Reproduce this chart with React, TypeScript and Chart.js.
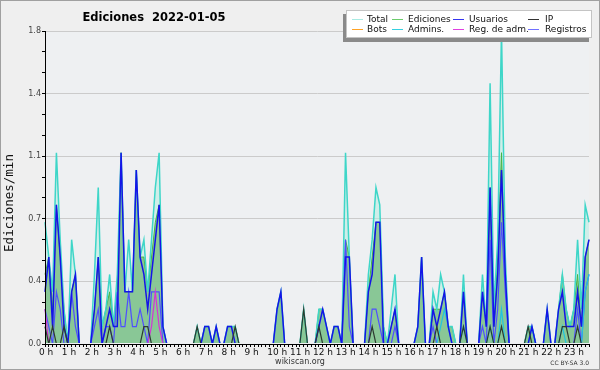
import React, { useEffect, useRef } from 'react';
import { Chart, registerables } from 'chart.js';

Chart.register(...registerables);

// x categories: minutes of the day, every 10 minutes (00:00 .. 23:50)
const minutes = Array.from({ length: 144 }, (_, i) => i * 10);

// y ticks (major every 0.36, minor every 0.12)
const yTicks = [0, 0.12, 0.24, 0.36, 0.48, 0.6, 0.72, 0.84, 0.96, 1.08, 1.2, 1.32, 1.44, 1.56, 1.68, 1.8];

// each row = 2 hours (12 x 10 min)
const total = [
  0.7, 0.5, 0.3, 1.1, 0.6, 0.2, 0, 0.6, 0.4, 0, 0, 0,
  0, 0.4, 0.9, 0.1, 0.2, 0.4, 0.1, 0.4, 1.1, 0.3, 0.6, 0.3,
  1.0, 0.5, 0.6, 0.3, 0.6, 0.9, 1.1, 0.1, 0, 0, 0, 0,
  0, 0, 0, 0, 0.1, 0, 0.1, 0.1, 0, 0.1, 0, 0,
  0.1, 0.1, 0.1, 0, 0, 0, 0, 0, 0, 0, 0, 0,
  0, 0.2, 0.3, 0, 0, 0, 0, 0, 0.2, 0, 0, 0,
  0.2, 0.2, 0.1, 0, 0.1, 0.1, 0, 1.1, 0.5, 0, 0, 0,
  0, 0.4, 0.6, 0.9, 0.8, 0.1, 0, 0.2, 0.4, 0, 0, 0,
  0, 0, 0.1, 0.5, 0, 0, 0.3, 0.2, 0.4, 0.3, 0.1, 0.1,
  0, 0, 0.4, 0, 0, 0, 0, 0.4, 0.1, 1.5, 0.2, 0.6,
  1.8, 0.5, 0, 0, 0, 0, 0, 0.1, 0.1, 0, 0, 0,
  0.2, 0, 0, 0.2, 0.4, 0.2, 0.1, 0.2, 0.6, 0.2, 0.8, 0.7,
];

const ediciones = [
  0.4, 0.5, 0.2, 0.8, 0.5, 0.2, 0, 0.3, 0.4, 0, 0, 0,
  0, 0.2, 0.5, 0.1, 0.2, 0.3, 0.1, 0.3, 1.1, 0.3, 0.3, 0.3,
  1.0, 0.5, 0.5, 0.3, 0.5, 0.7, 0.8, 0.1, 0, 0, 0, 0,
  0, 0, 0, 0, 0.1, 0, 0.1, 0.1, 0, 0.1, 0, 0,
  0.1, 0.1, 0.1, 0, 0, 0, 0, 0, 0, 0, 0, 0,
  0, 0.2, 0.3, 0, 0, 0, 0, 0, 0.2, 0, 0, 0,
  0.2, 0.2, 0.1, 0, 0.1, 0.1, 0, 0.6, 0.5, 0, 0, 0,
  0, 0.3, 0.5, 0.7, 0.7, 0.1, 0, 0.1, 0.2, 0, 0, 0,
  0, 0, 0.1, 0.5, 0, 0, 0.2, 0.2, 0.2, 0.3, 0.1, 0.1,
  0, 0, 0.3, 0, 0, 0, 0, 0.3, 0.1, 0.9, 0.1, 0.5,
  1.1, 0.4, 0, 0, 0, 0, 0, 0.1, 0.1, 0, 0, 0,
  0.2, 0, 0, 0.2, 0.4, 0.2, 0.1, 0.2, 0.4, 0.1, 0.5, 0.6,
];

const usuarios = [
  0.3, 0.5, 0.1, 0.8, 0.5, 0.1, 0, 0.3, 0.4, 0, 0, 0,
  0, 0.2, 0.5, 0, 0.1, 0.2, 0.1, 0.1, 1.1, 0.3, 0.3, 0.3,
  1.0, 0.5, 0.4, 0.2, 0.4, 0.6, 0.8, 0.1, 0, 0, 0, 0,
  0, 0, 0, 0, 0, 0, 0.1, 0.1, 0, 0.1, 0, 0,
  0.1, 0.1, 0, 0, 0, 0, 0, 0, 0, 0, 0, 0,
  0, 0.2, 0.3, 0, 0, 0, 0, 0, 0, 0, 0, 0,
  0.1, 0.2, 0.1, 0, 0.1, 0.1, 0, 0.5, 0.5, 0, 0, 0,
  0, 0.3, 0.4, 0.7, 0.7, 0, 0, 0.1, 0.2, 0, 0, 0,
  0, 0, 0.1, 0.5, 0, 0, 0.2, 0.1, 0.2, 0.3, 0.1, 0,
  0, 0, 0.3, 0, 0, 0, 0, 0.3, 0.1, 0.9, 0.1, 0.4,
  1.0, 0.4, 0, 0, 0, 0, 0, 0, 0.1, 0, 0, 0,
  0.2, 0, 0, 0.2, 0.3, 0.1, 0.1, 0.1, 0.3, 0.1, 0.5, 0.6,
];

const ip = [
  0.1, 0, 0.1, 0, 0, 0.1, 0, 0, 0, 0, 0, 0,
  0, 0, 0, 0, 0, 0.1, 0, 0, 0, 0, 0, 0,
  0, 0, 0.1, 0.1, 0, 0, 0, 0, 0, 0, 0, 0,
  0, 0, 0, 0, 0.1, 0, 0, 0, 0, 0, 0, 0,
  0, 0, 0.1, 0, 0, 0, 0, 0, 0, 0, 0, 0,
  0, 0, 0, 0, 0, 0, 0, 0, 0.2, 0, 0, 0,
  0.1, 0, 0, 0, 0, 0, 0, 0, 0, 0, 0, 0,
  0, 0, 0.1, 0, 0, 0, 0, 0, 0, 0, 0, 0,
  0, 0, 0, 0, 0, 0, 0, 0.1, 0, 0, 0, 0,
  0, 0, 0.1, 0, 0, 0, 0, 0, 0, 0.1, 0, 0,
  0.1, 0, 0, 0, 0, 0, 0, 0.1, 0, 0, 0, 0,
  0, 0, 0, 0, 0.1, 0.1, 0, 0, 0.1, 0, 0, 0,
];

const admins = [
  0, 0, 0, 0, 0, 0, 0, 0, 0, 0, 0, 0,
  0, 0, 0, 0, 0, 0, 0, 0, 0, 0, 0, 0,
  0, 0, 0, 0, 0, 0, 0, 0, 0, 0, 0, 0,
  0, 0, 0, 0, 0, 0, 0, 0, 0, 0, 0, 0,
  0, 0, 0, 0, 0, 0, 0, 0, 0, 0, 0, 0,
  0, 0, 0, 0, 0, 0, 0, 0, 0, 0, 0, 0,
  0, 0, 0, 0, 0, 0, 0, 0, 0, 0, 0, 0,
  0, 0, 0, 0, 0, 0, 0, 0, 0, 0, 0, 0,
  0, 0, 0, 0, 0, 0, 0, 0, 0.1, 0.2, 0.1, 0,
  0, 0, 0.1, 0, 0, 0, 0, 0, 0, 0.1, 0, 0,
  0.2, 0, 0, 0, 0, 0, 0, 0, 0.1, 0, 0, 0,
  0, 0, 0, 0, 0.1, 0, 0, 0, 0, 0, 0.3, 0.4,
];

const regAdm = [
  0.2, 0, 0, 0, 0, 0, 0, 0, 0, 0, 0, 0,
  0, 0, 0, 0, 0, 0, 0, 0, 0, 0, 0, 0,
  0, 0, 0, 0, 0.1, 0.3, 0.1, 0, 0, 0, 0, 0,
  0, 0, 0, 0, 0, 0, 0, 0, 0, 0, 0, 0,
  0, 0, 0, 0, 0, 0, 0, 0, 0, 0, 0, 0,
  0, 0, 0, 0, 0, 0, 0, 0, 0, 0, 0, 0,
  0, 0, 0, 0, 0, 0, 0, 0, 0, 0, 0, 0,
  0, 0, 0, 0, 0, 0, 0, 0, 0, 0, 0, 0,
  0, 0, 0, 0, 0, 0, 0, 0, 0, 0, 0, 0,
  0, 0, 0, 0, 0, 0, 0, 0, 0, 0, 0, 0,
  0, 0, 0, 0, 0, 0, 0, 0, 0, 0, 0, 0,
  0, 0, 0, 0, 0, 0, 0, 0, 0, 0, 0, 0,
];

const registros = [
  0.2, 0.1, 0, 0.3, 0.2, 0, 0, 0.3, 0.1, 0, 0, 0,
  0, 0.1, 0.2, 0, 0.1, 0.1, 0, 0.3, 0.1, 0.1, 0.3, 0.1,
  0.1, 0.2, 0.1, 0, 0.3, 0.3, 0.3, 0, 0, 0, 0, 0,
  0, 0, 0, 0, 0, 0, 0, 0, 0, 0, 0, 0,
  0, 0, 0, 0, 0, 0, 0, 0, 0, 0, 0, 0,
  0, 0, 0, 0, 0, 0, 0, 0, 0, 0, 0, 0,
  0, 0, 0, 0, 0, 0, 0, 0.6, 0.1, 0, 0, 0,
  0, 0, 0.2, 0.2, 0.1, 0, 0, 0, 0.1, 0, 0, 0,
  0, 0, 0, 0, 0, 0, 0.1, 0, 0, 0, 0, 0,
  0, 0, 0, 0, 0, 0, 0, 0.1, 0, 0.6, 0, 0.2,
  0.7, 0.3, 0, 0, 0, 0, 0, 0, 0, 0, 0, 0,
  0, 0, 0, 0, 0, 0, 0, 0, 0.2, 0, 0.3, 0.4,
];

const legendLabels = ['Total', 'Ediciones', 'Usuarios', 'IP', 'Bots', 'Admins.', 'Reg. de adm.', 'Registros'];
const legendColors = ['#a8ebe3', '#6ccc6c', '#3535f0', '#333333', '#ffa326', '#35d0e0', '#e040e0', '#7070ff'];

const pts = (arr: number[]) => arr.map((v, i) => ({ x: minutes[i], y: v }));

const FONT = '"DejaVu Sans", sans-serif';

const decor = {
  id: 'decor',
  beforeDraw(chart: any) {
    const { ctx, chartArea: a, width, height } = chart;
    ctx.save();
    ctx.fillStyle = '#efefef';
    ctx.fillRect(0, 0, width, height);
    ctx.fillStyle = '#eef0f2';
    ctx.fillRect(a.left, a.top, a.right - a.left, a.bottom - a.top);
    ctx.restore();
  },
  afterDatasetsDraw(chart: any) {
    const { ctx, chartArea: a } = chart;
    ctx.save();
    ctx.strokeStyle = '#000';
    ctx.lineWidth = 1;
    ctx.beginPath();
    ctx.moveTo(a.left + 0.5, a.top);
    ctx.lineTo(a.left + 0.5, a.bottom + 0.5);
    ctx.lineTo(a.right, a.bottom + 0.5);
    ctx.stroke();
    ctx.restore();
  },
  afterDraw(chart: any) {
    const { ctx } = chart;
    ctx.save();
    // title
    ctx.fillStyle = '#000';
    ctx.font = 'bold 11.5px ' + FONT;
    ctx.textAlign = 'center';
    ctx.textBaseline = 'alphabetic';
    ctx.fillText('Ediciones  2022-01-05', 154, 20.5);
    // y title
    ctx.save();
    ctx.translate(9.5, 203);
    ctx.rotate(-Math.PI / 2);
    ctx.font = '12.5px "DejaVu Sans Mono", monospace';
    ctx.textBaseline = 'middle';
    ctx.fillStyle = '#111';
    ctx.fillText('Ediciones/min', 0, 0);
    ctx.restore();
    // footer
    ctx.fillStyle = '#333';
    ctx.font = '8px ' + FONT;
    ctx.textAlign = 'center';
    ctx.fillText('wikiscan.org', 300, 364);
    ctx.font = '6px ' + FONT;
    ctx.textAlign = 'right';
    ctx.fillText('CC BY-SA 3.0', 589, 365);
    // legend
    ctx.fillStyle = '#8a8a8a';
    ctx.fillRect(343, 14, 246, 28);
    ctx.fillStyle = '#ffffff';
    ctx.fillRect(346, 10, 246, 27);
    ctx.strokeStyle = '#c4c4c4';
    ctx.lineWidth = 1;
    ctx.strokeRect(346.5, 10.5, 245, 27);
    const lineX = [352, 392, 453, 528];
    const textX = [367, 408, 469, 545];
    const rowY = [19.5, 29.5];
    ctx.font = '9px ' + FONT;
    ctx.textAlign = 'left';
    ctx.textBaseline = 'middle';
    legendLabels.forEach((lab, k) => {
      const c = k % 4;
      const r = Math.floor(k / 4);
      ctx.strokeStyle = legendColors[k];
      ctx.beginPath();
      ctx.moveTo(lineX[c], rowY[r]);
      ctx.lineTo(lineX[c] + 11, rowY[r]);
      ctx.stroke();
      ctx.fillStyle = '#111';
      ctx.fillText(lab, textX[c], rowY[r] + 0.5);
    });
    // border
    ctx.strokeStyle = '#a0a0a0';
    ctx.strokeRect(0.5, 0.5, 599, 369);
    ctx.restore();
  },
};

export default function App() {
  const ref = useRef<HTMLCanvasElement>(null);
  useEffect(() => {
    document.body.style.margin = '0';
    const clip = { left: 2, top: 5, right: 2, bottom: -1 };
    const lineBase = { pointRadius: 0, tension: 0, clip };
    const chart = new Chart(ref.current as HTMLCanvasElement, {
      type: 'line',
      data: {
        datasets: [
          { ...lineBase, label: 'Total fill', data: pts(total), borderWidth: 0, borderColor: 'rgba(0,0,0,0)', backgroundColor: 'rgba(182,236,226,0.55)', fill: 'origin', order: 20 },
          { ...lineBase, label: 'Ediciones', data: pts(ediciones), borderWidth: 1, borderColor: '#45b545', backgroundColor: 'rgba(128,194,138,0.88)', fill: 'origin', order: 19 },
          { ...lineBase, label: 'Total', data: pts(total), borderWidth: 1.5, borderColor: '#3ed6c8', fill: false, order: 18 },
          { ...lineBase, label: 'Registros', data: pts(registros), borderWidth: 1.2, borderColor: '#4f4fff', fill: false, order: 17 },
          { ...lineBase, label: 'Reg. de adm.', data: pts(regAdm), borderWidth: 1.2, borderColor: '#d535d5', fill: false, order: 16 },
          { ...lineBase, label: 'Admins.', data: pts(admins), borderWidth: 1.2, borderColor: '#20c4e0', fill: false, order: 15 },
          { ...lineBase, label: 'IP', data: pts(ip), borderWidth: 1.2, borderColor: '#2c3a30', fill: false, order: 13 },
          { ...lineBase, label: 'Usuarios', data: pts(usuarios), borderWidth: 1.5, borderColor: '#1414e8', fill: false, order: 14 },
        ],
      },
      options: {
        animation: false,
        responsive: false,
        devicePixelRatio: 1,
        parsing: false as any,
        normalized: true,
        layout: { padding: { left: 0, right: 11, top: 31, bottom: 0 } },
        plugins: { legend: { display: false }, tooltip: { enabled: false }, title: { display: false } },
        scales: {
          x: {
            type: 'linear',
            min: 0,
            max: 1430,
            afterBuildTicks: (s: any) => { s.ticks = minutes.map((v) => ({ value: v })); },
            afterFit: (s: any) => { s.height = 26; },
            grid: { drawOnChartArea: false, tickLength: 3, tickColor: '#000', color: '#000' },
            border: { display: true, color: '#000', width: 1 },
            ticks: {
              autoSkip: false,
              maxRotation: 0,
              minRotation: 0,
              align: 'start',
              labelOffset: -6,
              padding: 0,
              color: '#111',
              font: { family: FONT, size: 9 },
              callback: (v: any) => (Number(v) % 60 === 0 ? `${Number(v) / 60} h` : ''),
            },
          },
          y: {
            type: 'linear',
            min: 0,
            max: 1.8,
            afterBuildTicks: (s: any) => { s.ticks = yTicks.map((v) => ({ value: v })); },
            afterFit: (s: any) => { s.width = 45; },
            grid: {
              tickLength: 3,
              tickColor: '#000',
              color: (c: any) => (c.index % 3 === 0 ? '#cbcbcb' : 'rgba(0,0,0,0)'),
            },
            border: { display: true, color: '#000', width: 1 },
            ticks: {
              padding: 1,
              color: '#444',
              font: { family: FONT, size: 8 },
              callback: (v: any, i: number) => (i % 3 === 0 ? Number(v).toFixed(1) : ''),
            },
          },
        },
      } as any,
      plugins: [decor],
    });
    return () => chart.destroy();
  }, []);
  return <canvas ref={ref} width={600} height={370} style={{ display: 'block', width: 600, height: 370 }} />;
}
